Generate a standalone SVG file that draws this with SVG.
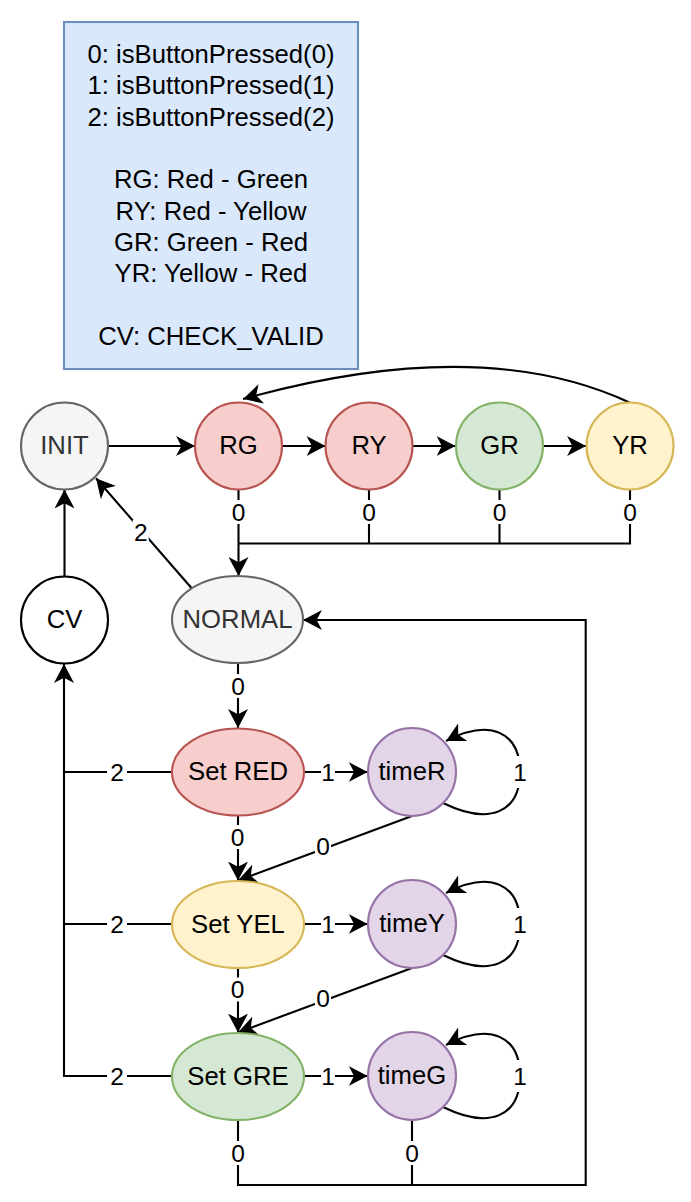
<svg xmlns="http://www.w3.org/2000/svg" width="691" height="1202" viewBox="0 0 691 1202">
<defs>
<marker id="arr" markerUnits="userSpaceOnUse" markerWidth="20" markerHeight="20" viewBox="0 0 19 19" refX="18" refY="9.5" orient="auto"><path d="M0,0 L18,9.5 L0,19 L5,9.5 Z" fill="#000"/></marker>
</defs>
<style>
text{font-family:"Liberation Sans",Arial,sans-serif;text-anchor:middle;fill:#000}
.g{fill:#333333}
.e{fill:none;stroke:#000;stroke-width:2.1}
.a{marker-end:url(#arr)}
.bg{fill:#ffffff;stroke:none}
.sh{stroke-width:2.1}
.grey{fill:#f5f5f5;stroke:#666666}
.red{fill:#f8cecc;stroke:#b85450}
.grn{fill:#d5e8d4;stroke:#82b366}
.yel{fill:#fff2cc;stroke:#d6b656}
.pur{fill:#e1d5e7;stroke:#9673a6}
.wht{fill:#ffffff;stroke:#000000}
</style>
<rect width="691" height="1202" fill="#ffffff"/>

<g id="legend" font-size="25.7">
<rect x="64" y="22" width="294" height="347" fill="#dae8fc" stroke="#6c8ebf" stroke-width="2.1"/>
<text x="211" y="63">0: isButtonPressed(0)</text>
<text x="211" y="94.3">1: isButtonPressed(1)</text>
<text x="211" y="125.6">2: isButtonPressed(2)</text>
<text x="211" y="188.2">RG: Red - Green</text>
<text x="211" y="219.5">RY: Red - Yellow</text>
<text x="211" y="250.8">GR: Green - Red</text>
<text x="211" y="282.1">YR: Yellow - Red</text>
<text x="211" y="344.7">CV: CHECK_VALID</text>
</g>

<g id="connectors">
<path class="e a" d="M108,446 L195,446"/>
<path class="e a" d="M282.5,446 L325.5,446"/>
<path class="e a" d="M412.5,446 L455.5,446"/>
<path class="e a" d="M543.5,446 L586,446"/>
<path class="e a" d="M629.5,402.5 Q480,333 243,399"/>
<path class="e" d="M369,490 V543.5 M499.5,490 V543.5 M630,490 V543.5 H238.5"/>
<path class="e a" d="M238.5,490 V576"/>
<path class="e a" d="M191.7,588.3 L96,478.3"/>
<path class="e a" d="M64.5,576 V489.5"/>
<path class="e a" d="M238,663 V728"/>
<path class="e a" d="M304,772 H367.7"/>
<path class="e a" d="M443,803 C490,826 520,812 520,772 C520,732 490,718 446,741"/>
<path class="e a" d="M412,816 L238,880.5"/>
<path class="e a" d="M238,816 V880.5"/>
<path class="e a" d="M304,924 H367.7"/>
<path class="e a" d="M443,955 C490,978 520,964 520,924 C520,884 490,870 446,893"/>
<path class="e a" d="M412,968 L238,1032.5"/>
<path class="e a" d="M238,968 V1032.5"/>
<path class="e a" d="M304,1076 H367.7"/>
<path class="e a" d="M443,1107 C490,1130 520,1116 520,1076 C520,1036 490,1022 446,1045"/>
<path class="e" d="M172,772 H64 M172,924 H64"/>
<path class="e a" d="M172,1076 H64 V664"/>
<path class="e a" d="M238,1120 V1185 H585.7 V620 H303"/>
<path class="e" d="M412,1120 V1185"/>
<g id="labels" font-size="24.5">
<rect class="bg" x="230.5" y="500" width="16" height="24"/><text x="238.5" y="520.5">0</text>
<rect class="bg" x="361" y="500" width="16" height="24"/><text x="369" y="520.5">0</text>
<rect class="bg" x="491.5" y="500" width="16" height="24"/><text x="499.5" y="520.5">0</text>
<rect class="bg" x="622" y="500" width="16" height="24"/><text x="630" y="520.5">0</text>
<rect class="bg" x="132.7" y="520" width="16" height="24"/><text x="140.7" y="540.5">2</text>
<rect class="bg" x="230" y="674" width="16" height="24"/><text x="238" y="694.8">0</text>
<rect class="bg" x="321" y="760" width="14" height="24"/><text x="328" y="780.8">1</text>
<rect class="bg" x="512" y="756" width="16" height="32"/><text x="520" y="780.8">1</text>
<rect class="bg" x="315" y="834" width="16" height="24"/><text x="323" y="854.8">0</text>
<rect class="bg" x="229.5" y="825" width="16" height="24"/><text x="237.5" y="845.8">0</text>
<rect class="bg" x="107" y="760" width="20" height="24"/><text x="117" y="780.8">2</text>
<rect class="bg" x="321" y="912" width="14" height="24"/><text x="328" y="932.8">1</text>
<rect class="bg" x="512" y="908" width="16" height="32"/><text x="520" y="932.8">1</text>
<rect class="bg" x="315" y="986" width="16" height="24"/><text x="323" y="1006.8">0</text>
<rect class="bg" x="229.5" y="977.5" width="16" height="24"/><text x="237.5" y="998.3">0</text>
<rect class="bg" x="107" y="912" width="20" height="24"/><text x="117" y="932.8">2</text>
<rect class="bg" x="321" y="1064" width="14" height="24"/><text x="328" y="1084.8">1</text>
<rect class="bg" x="512" y="1060" width="16" height="32"/><text x="520" y="1084.8">1</text>
<rect class="bg" x="107" y="1064" width="20" height="24"/><text x="117" y="1084.8">2</text>
<rect class="bg" x="230" y="1141" width="16" height="24"/><text x="238" y="1161.8">0</text>
<rect class="bg" x="404" y="1141" width="16" height="24"/><text x="412" y="1161.8">0</text>
</g>
</g>

<g id="nodes" font-size="25.7">
<g id="INIT"><circle class="grey sh" cx="64.5" cy="446" r="43.5"/><text class="g" x="64.5" y="454">INIT</text></g>
<g id="RG"><circle class="red sh" cx="238.5" cy="446" r="43.5"/><text x="238.5" y="454">RG</text></g>
<g id="RY"><circle class="red sh" cx="369" cy="446" r="43.5"/><text x="369" y="454">RY</text></g>
<g id="GR"><circle class="grn sh" cx="499.5" cy="446" r="43.5"/><text x="499.5" y="454">GR</text></g>
<g id="YR"><circle class="yel sh" cx="630" cy="446" r="43.5"/><text x="630" y="454">YR</text></g>
<g id="CV"><circle class="wht sh" cx="64.5" cy="620" r="43.5"/><text x="64.5" y="628">CV</text></g>
<g id="NORMAL"><ellipse class="grey sh" cx="237.5" cy="619.5" rx="65.5" ry="43.5"/><text class="g" x="237.5" y="628">NORMAL</text></g>
<g id="SetRED"><ellipse class="red sh" cx="238" cy="772" rx="66" ry="43.5"/><text x="238" y="780">Set RED</text></g>
<g id="timeR"><circle class="pur sh" cx="412" cy="772" r="44"/><text x="412" y="780">timeR</text></g>
<g id="SetYEL"><ellipse class="yel sh" cx="238" cy="924.5" rx="66" ry="43.5"/><text x="238" y="932.5">Set YEL</text></g>
<g id="timeY"><circle class="pur sh" cx="412" cy="924" r="44"/><text x="412" y="932">timeY</text></g>
<g id="SetGRE"><ellipse class="grn sh" cx="238" cy="1076.5" rx="66" ry="43.5"/><text x="238" y="1084.5">Set GRE</text></g>
<g id="timeG"><circle class="pur sh" cx="412" cy="1076" r="44"/><text x="412" y="1084">timeG</text></g>
</g>
</svg>
